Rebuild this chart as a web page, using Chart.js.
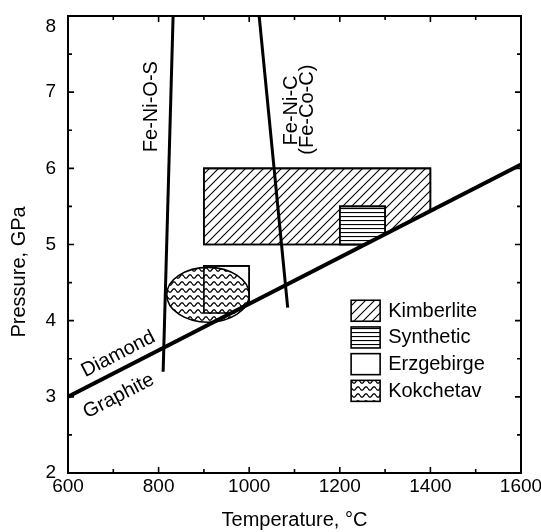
<!DOCTYPE html>
<html>
<head>
<meta charset="utf-8">
<script src="https://cdn.jsdelivr.net/npm/chart.js@4.4.1/dist/chart.umd.min.js"></script>
<style>
  html, body { margin: 0; padding: 0; background: #fff; }
</style>
</head>
<body>
<canvas id="chart" width="541" height="532"></canvas>
<script>
// diamond / graphite boundary
const dgTemp = [600, 1600];
const dgPres = [3.0, 6.05];

// metal-carbon solidus lines
const fenosTemp = [810, 832];
const fenosPres = [3.33, 8];
const fenicTemp = [1085, 1022];
const fenicPres = [4.17, 8];

// inclusion fields (outlines cut off by the diamond-graphite line)
const kimbTemp = [900, 1256, 1400, 1400, 900];
const kimbPres = [5.0, 5.0, 5.44, 6.0, 6.0];
const synTemp = [1200, 1256, 1300, 1300, 1200];
const synPres = [5.0, 5.0, 5.13, 5.5, 5.5];
const erzTemp = [900, 961, 1000, 1000, 900];
const erzPres = [4.1, 4.1, 4.22, 4.72, 4.72];

// Kokchetav ellipse: centre and half widths (T, P)
const kokCentre = [909, 4.34];
const kokHalf = [91, 0.36];

const fieldNames = ['Kimberlite', 'Synthetic', 'Erzgebirge', 'Kokchetav'];

const FONT = '"Liberation Sans", Arial, Helvetica, sans-serif';
const pts = (xs, ys) => xs.map((x, i) => ({ x: x, y: ys[i] }));

// ---- fill patterns ----
function makeTile(w, h, lw, draw) {
  const c = document.createElement('canvas');
  c.width = w; c.height = h;
  const g = c.getContext('2d');
  g.fillStyle = '#fff';
  g.fillRect(0, 0, w, h);
  g.strokeStyle = '#000';
  g.lineWidth = lw;
  draw(g, w, h);
  return document.getElementById('chart').getContext('2d').createPattern(c, 'repeat');
}

const diagPattern = makeTile(9, 9, 1.1, (g, w, h) => {
  g.beginPath();
  g.moveTo(-1, h + 1); g.lineTo(w + 1, -1);
  g.moveTo(-1, 1); g.lineTo(1, -1);
  g.moveTo(w - 1, h + 1); g.lineTo(w + 1, h - 1);
  g.stroke();
});

const horizPattern = makeTile(4, 4, 1.2, (g, w, h) => {
  g.beginPath();
  g.moveTo(0, 0.5); g.lineTo(w, 0.5);
  g.stroke();
});

const wavePattern = makeTile(8, 7, 1.3, (g, w, h) => {
  g.beginPath();
  for (let i = 0; i <= 16; i++) {
    const x = i * w / 16;
    const y = 3.5 + 1.7 * Math.sin(i / 16 * Math.PI * 2);
    i ? g.lineTo(x, y) : g.moveTo(x, y);
  }
  g.stroke();
});

const whiteFill = '#ffffff';
const fieldFills = [diagPattern, horizPattern, whiteFill, wavePattern];

// ---- plugins ----
const fieldsPlugin = {
  id: 'fields',
  beforeDatasetsDraw(chart) {
    const ctx = chart.ctx;
    const { x, y } = chart.scales;
    const a = chart.chartArea;
    ctx.save();
    ctx.beginPath();
    ctx.rect(a.left, a.top, a.right - a.left, a.bottom - a.top);
    ctx.clip();
    const polys = [];
    chart.data.datasets.forEach((ds, i) => {
      if (!ds.fieldFill) return;
      const meta = chart.getDatasetMeta(i).data;
      ctx.beginPath();
      if (ds.ellipse) {
        const p = meta[0];
        const rx = Math.abs(x.getPixelForValue(kokCentre[0] + kokHalf[0]) - p.x);
        const ry = Math.abs(y.getPixelForValue(kokCentre[1] + kokHalf[1]) - p.y);
        ctx.ellipse(p.x, p.y, rx, ry, 0, 0, Math.PI * 2);
      } else {
        meta.forEach((p, k) => k ? ctx.lineTo(p.x, p.y) : ctx.moveTo(p.x, p.y));
        ctx.closePath();
        polys.push(meta);
      }
      ctx.fillStyle = ds.fieldFill;
      ctx.fill();
      ctx.lineWidth = 1.6;
      ctx.strokeStyle = '#000';
      ctx.stroke();
    });
    // box outlines again, on top of the ellipse hatch
    polys.forEach(meta => {
      ctx.beginPath();
      meta.forEach((p, k) => k ? ctx.lineTo(p.x, p.y) : ctx.moveTo(p.x, p.y));
      ctx.closePath();
      ctx.lineWidth = 1.6;
      ctx.stroke();
    });
    ctx.restore();
  }
};

const labelsPlugin = {
  id: 'labels',
  afterDatasetsDraw(chart) {
    const ctx = chart.ctx;
    const { x, y } = chart.scales;
    ctx.save();
    ctx.fillStyle = '#000';
    ctx.textAlign = 'center';
    ctx.textBaseline = 'middle';

    const vText = (txt, t, p) => {
      ctx.save();
      ctx.font = '20px ' + FONT;
      ctx.translate(x.getPixelForValue(t), y.getPixelForValue(p));
      ctx.rotate(-Math.PI / 2);
      ctx.fillText(txt, 0, 0);
      ctx.restore();
    };
    vText('Fe-Ni-O-S', 785, 6.81);
    vText('Fe-Ni-C', 1093, 6.76);
    vText('(Fe-Co-C)', 1129, 6.77);

    // along the diamond-graphite boundary
    const ang = Math.atan2(
      y.getPixelForValue(dgPres[1]) - y.getPixelForValue(dgPres[0]),
      x.getPixelForValue(dgTemp[1]) - x.getPixelForValue(dgTemp[0]));
    const sText = (txt, t, p) => {
      ctx.save();
      ctx.font = '20px ' + FONT;
      ctx.translate(x.getPixelForValue(t), y.getPixelForValue(p));
      ctx.rotate(ang);
      ctx.fillText(txt, 0, 0);
      ctx.restore();
    };
    sText('Diamond', 711, 3.56);
    sText('Graphite', 712, 3.01);

    // legend
    const a = chart.chartArea;
    const lx = a.left + 0.625 * (a.right - a.left);
    const ly = a.top + 0.622 * (a.bottom - a.top);
    const rowH = 26.7;
    ctx.textAlign = 'left';
    ctx.font = '20px ' + FONT;
    fieldNames.forEach((name, i) => {
      const top = ly + i * rowH;
      ctx.fillStyle = fieldFills[i];
      ctx.fillRect(lx, top, 29, 21);
      ctx.lineWidth = 1.6;
      ctx.strokeStyle = '#000';
      ctx.strokeRect(lx, top, 29, 21);
      ctx.fillStyle = '#000';
      ctx.fillText(name, lx + 37, top + 11);
    });

    // y axis title, sits a bit below the middle of the axis
    ctx.save();
    ctx.font = '20px ' + FONT;
    ctx.textAlign = 'center';
    ctx.translate(19, a.top + 0.56 * (a.bottom - a.top));
    ctx.rotate(-Math.PI / 2);
    ctx.fillText('Pressure, GPa', 0, 0);
    ctx.restore();

    // top y label hangs below the frame line
    ctx.font = '19px ' + FONT;
    ctx.textAlign = 'right';
    ctx.textBaseline = 'top';
    ctx.fillText(String(y.max), a.left - 12, y.getPixelForValue(y.max) + 1);
    ctx.restore();
  },
  afterDraw(chart) {
    const ctx = chart.ctx;
    const a = chart.chartArea;
    const { x, y } = chart.scales;
    ctx.save();
    ctx.strokeStyle = '#000';
    ctx.lineWidth = 2;
    ctx.strokeRect(a.left, a.top, a.right - a.left, a.bottom - a.top);
    ctx.lineWidth = 1.6;
    ctx.beginPath();
    x.ticks.forEach(tk => {
      const px = x.getPixelForValue(tk.value);
      const len = tk.value % 200 === 0 ? 6 : 4;
      ctx.moveTo(px, a.bottom); ctx.lineTo(px, a.bottom - len);
      ctx.moveTo(px, a.top); ctx.lineTo(px, a.top + len);
    });
    y.ticks.forEach(tk => {
      const py = y.getPixelForValue(tk.value);
      const len = Number.isInteger(tk.value) ? 6 : 4;
      ctx.moveTo(a.left, py); ctx.lineTo(a.left + len, py);
      ctx.moveTo(a.right, py); ctx.lineTo(a.right - len, py);
    });
    ctx.stroke();
    ctx.restore();
  }
};

// ---- chart ----
const chart = new Chart(document.getElementById('chart'), {
  type: 'scatter',
  data: {
    datasets: [
      { label: 'Diamond-Graphite', data: pts(dgTemp, dgPres), showLine: true,
        borderColor: '#000', borderWidth: 4, pointRadius: 0, order: 0 },
      { label: 'Fe-Ni-O-S', data: pts(fenosTemp, fenosPres), showLine: true,
        borderColor: '#000', borderWidth: 3, pointRadius: 0, order: 1 },
      { label: 'Fe-Ni-C', data: pts(fenicTemp, fenicPres), showLine: true,
        borderColor: '#000', borderWidth: 3, pointRadius: 0, order: 2 },
      { label: fieldNames[0], data: pts(kimbTemp, kimbPres), fieldFill: fieldFills[0], pointRadius: 0, order: 3 },
      { label: fieldNames[1], data: pts(synTemp, synPres), fieldFill: fieldFills[1], pointRadius: 0, order: 4 },
      { label: fieldNames[2], data: pts(erzTemp, erzPres), fieldFill: fieldFills[2], pointRadius: 0, order: 5 },
      { label: fieldNames[3], data: [{ x: kokCentre[0], y: kokCentre[1] }], fieldFill: fieldFills[3],
        ellipse: true, pointRadius: 0, order: 6 }
    ]
  },
  options: {
    responsive: false,
    animation: false,
    layout: { padding: { top: 16, right: 20, left: 0, bottom: 0 } },
    plugins: { legend: { display: false }, tooltip: { enabled: false } },
    scales: {
      x: {
        type: 'linear', min: 600, max: 1600,
        afterFit: s => { s.height = 59; s.paddingLeft = 0; s.paddingRight = 0; },
        grid: { display: false, drawTicks: false },
        border: { display: false },
        ticks: {
          stepSize: 100, autoSkip: false, maxRotation: 0, padding: 2,
          color: '#000', font: { size: 19, family: FONT },
          callback: v => v % 200 === 0 ? String(v) : ''
        },
        title: { display: true, text: 'Temperature, °C', color: '#000',
          font: { size: 20, family: FONT }, padding: { top: 0, bottom: 0 } }
      },
      y: {
        type: 'linear', min: 2, max: 8,
        afterFit: s => { s.width = 68; s.paddingTop = 0; s.paddingBottom = 0; },
        grid: { display: false, drawTicks: false },
        border: { display: false },
        ticks: {
          stepSize: 0.5, autoSkip: false, padding: 12,
          color: '#000', font: { size: 19, family: FONT },
          callback: v => Number.isInteger(v) && v < 8 ? String(v) : ''
        }
      }
    }
  },
  plugins: [fieldsPlugin, labelsPlugin]
});
</script>
</body>
</html>
